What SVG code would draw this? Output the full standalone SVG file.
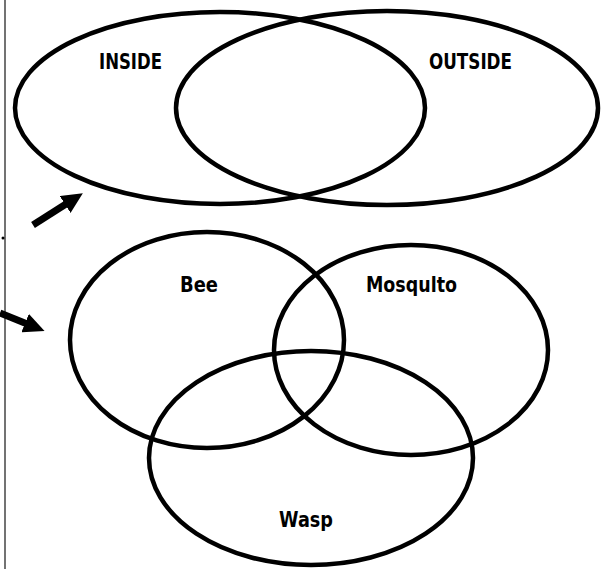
<svg xmlns="http://www.w3.org/2000/svg" width="604" height="569" viewBox="0 0 604 569">
<style>
.e{fill:none;stroke:#000;stroke-width:4.5}
.t{font-family:"DejaVu Sans","Liberation Sans",sans-serif;font-weight:bold;font-size:21px;fill:#000}
.a{stroke:#000;stroke-width:7;fill:none}
</style>
<defs>
<marker id="ah" markerWidth="22" markerHeight="20" refX="1" refY="10" orient="auto" markerUnits="userSpaceOnUse">
<path d="M0,0 L21,10 L0,20 z" fill="#000"/>
</marker>
</defs>
<rect width="604" height="569" fill="#fff"/>
<line x1="5" y1="0" x2="5" y2="569" stroke="#444" stroke-width="1.5"/>
<circle cx="3" cy="238" r="1.5" fill="#000"/>
<g id="inside"><ellipse class="e" cx="220" cy="108" rx="205" ry="96"/><text class="t" x="99" y="69" textLength="63" lengthAdjust="spacingAndGlyphs">INSIDE</text></g>
<g id="outside"><ellipse class="e" cx="387" cy="108" rx="211" ry="97"/><text class="t" x="429" y="69" textLength="83" lengthAdjust="spacingAndGlyphs">OUTSIDE</text></g>
<g id="bee"><ellipse class="e" cx="207" cy="340" rx="137" ry="108"/><text class="t" x="180" y="292" textLength="38" lengthAdjust="spacingAndGlyphs">Bee</text></g>
<g id="mosquito"><ellipse class="e" cx="411" cy="350" rx="137" ry="105"/><text class="t" x="366" y="292" textLength="91" lengthAdjust="spacingAndGlyphs">Mosqulto</text></g>
<g id="wasp"><ellipse class="e" cx="311" cy="458" rx="162" ry="107"/><text class="t" x="279" y="527" textLength="54" lengthAdjust="spacingAndGlyphs">Wasp</text></g>
<g id="connectors">
<line class="a" x1="33" y1="225" x2="66" y2="204" marker-end="url(#ah)"/>
<line class="a" x1="0" y1="313" x2="26" y2="323.5" marker-end="url(#ah)"/>
</g>
</svg>
